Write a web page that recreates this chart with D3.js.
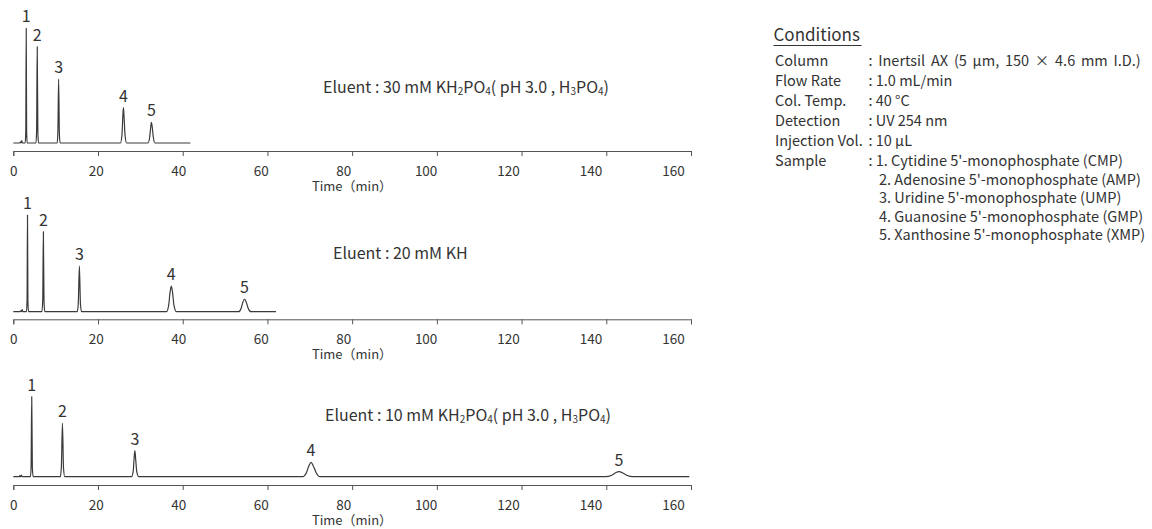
<!DOCTYPE html>
<html><head><meta charset="utf-8">
<script src="https://cdn.jsdelivr.net/npm/d3@7"></script>
<style>
body{margin:0;background:#fff}
svg{display:block}
text{font-family:"Noto Sans CJK JP","Noto Sans",sans-serif;fill:#333}
</style>
</head><body>
<svg id="c" width="1152" height="529"></svg>
<script>
// ---------- data ----------
const timeTicks = [0, 20, 40, 60, 80, 100, 120, 140, 160];
const peakLabels = ["1", "2", "3", "4", "5"];

// chromatogram traces: [time (min), signal]
const trace30 = [
  [0,0],[1.55,0],[1.7,1.2],[1.85,0],[2.0,2.5],[2.15,0],
  [2.8,0],[2.95,12],[3.05,114.7],[3.15,10],[3.3,0],
  [5.35,0],[5.5,12],[5.65,96.3],[5.8,10],[5.95,0],
  [10.35,0],[10.52,10],[10.7,64],[10.88,9],[11.05,0],
  [25.3,0],[25.65,8],[25.85,26],[26.0,35.3],[26.15,26],[26.4,7],[26.75,0],
  [31.8,0],[32.2,6],[32.45,16],[32.6,20.7],[32.8,16],[33.05,6],[33.45,0],
  [41.8,0]
];
const trace20 = [
  [0,0],[1.6,0],[1.8,1],[1.95,0],[2.1,2],[2.25,0],
  [3.1,0],[3.25,12],[3.35,96.7],[3.45,10],[3.6,0],
  [6.75,0],[6.95,12],[7.1,80],[7.25,10],[7.45,0],
  [15.1,0],[15.35,9],[15.6,45.7],[15.85,8],[16.1,0],
  [36.2,0],[36.7,7],[37.0,19],[37.3,25.7],[37.6,19],[37.95,6],[38.5,0],
  [53.2,0],[53.8,3.5],[54.2,9.5],[54.6,12.7],[55.0,9.5],[55.45,3.5],[56.1,0],
  [62,0]
];
const trace10 = [
  [0,0],[1.4,0],[1.55,1],[1.7,0],[1.9,1.5],[2.05,0],
  [4.05,0],[4.2,10],[4.35,80],[4.5,9],[4.7,0],
  [11.1,0],[11.35,10],[11.6,53.4],[11.85,9],[12.15,0],
  [27.9,0],[28.3,5],[28.5,17],[28.7,26],[28.9,17],[29.15,5],[29.6,0],
  [68.3,0],[69.2,4],[69.8,11],[70.3,14.4],[70.8,11],[71.5,4],[72.4,0],
  [139.8,0],[141.3,1.5],[142.2,4],[143,5],[143.8,4],[144.8,1.5],[146.3,0],
  [159.6,0]
];

// peak apexes (retention time, height)
const rt30 = [3.05, 5.65, 10.7, 26.0, 32.6];
const h30  = [114.7, 96.3, 64, 35.3, 20.7];
const rt20 = [3.35, 7.1, 15.6, 37.3, 54.6];
const h20  = [96.7, 80, 45.7, 25.7, 12.7];
const rt10 = [4.35, 11.6, 28.7, 70.3, 143];
const h10  = [80, 53.4, 26, 14.4, 5];

// eluent labels: [text, subscript?]
const eluent30 = [["Eluent : 30 mM KH",0],["2",1],["PO",0],["4",1],["( pH 3.0 , H",0],["3",1],["PO",0],["4",1],[")",0]];
const eluent20 = [["Eluent : 20 mM KH",0]];
const eluent10 = [["Eluent : 10 mM KH",0],["2",1],["PO",0],["4",1],["( pH 3.0 , H",0],["3",1],["PO",0],["4",1],[")",0]];

const condLabels = ["Column", "Flow Rate", "Col. Temp.", "Detection", "Injection Vol.", "Sample"];
const condValues = [": Inertsil AX (5 µm, 150 × 4.6 mm I.D.)", ": 1.0 mL/min", ": 40 °C", ": UV 254 nm", ": 10 µL", ": 1. Cytidine 5'-monophosphate (CMP)"];
const sampleMore = ["2. Adenosine 5'-monophosphate (AMP)", "3. Uridine 5'-monophosphate (UMP)", "4. Guanosine 5'-monophosphate (GMP)", "5. Xanthosine 5'-monophosphate (XMP)"];

// ---------- drawing ----------
const svg = d3.select("#c");
svg.append("rect").attr("width",1152).attr("height",529).attr("fill","#fff");

const x = d3.scaleLinear().domain([0,160]).range([13.3,691]);
const xLab = d3.scaleLinear().domain([0,160]).range([13.3,673]);

const panels = [
  {trace: trace30, rt: rt30, h: h30, eluent: eluent30, base: 143, axisY: 151, ex: 323, ey: 93},
  {trace: trace20, rt: rt20, h: h20, eluent: eluent20, base: 311.7, axisY: 319.3, ex: 333, ey: 258.5},
  {trace: trace10, rt: rt10, h: h10, eluent: eluent10, base: 476.7, axisY: 485, ex: 325, ey: 421}
];

panels.forEach(p => {
  const y = d3.scaleLinear().domain([0,120]).range([p.base, p.base-120]);
  const g = svg.append("g");

  g.append("path")
    .datum(p.trace)
    .attr("fill","none")
    .attr("stroke","#3a3a3a")
    .attr("stroke-width",1.2)
    .attr("stroke-linejoin","round")
    .attr("d", d3.line().x(d=>x(d[0])).y(d=>y(d[1])).curve(d3.curveMonotoneX));

  g.selectAll("text.pk").data(p.rt).join("text")
    .attr("class","pk")
    .attr("x", d=>x(d))
    .attr("y", (d,i)=>y(p.h[i]) - 6)
    .attr("text-anchor","middle")
    .style("font-size","16px")
    .text((d,i)=>peakLabels[i]);

  const ax = g.append("g").attr("transform",`translate(0,${p.axisY})`)
    .call(d3.axisBottom(x).tickValues(timeTicks).tickSize(5).tickSizeOuter(5).tickFormat(""));
  ax.selectAll("path,line").attr("stroke","#555").attr("stroke-width",1);

  const al = g.append("g").attr("transform",`translate(0,${p.axisY})`)
    .call(d3.axisBottom(xLab).tickValues(timeTicks).tickSize(0));
  al.select(".domain").remove();
  al.selectAll("text").attr("y",25).attr("dy",null)
    .style("font-size","13.5px").style("font-family",'"Noto Sans CJK JP",sans-serif').attr("fill","#333");

  g.append("text")
    .attr("x",352).attr("y",p.axisY+40)
    .attr("text-anchor","middle")
    .style("font-size","13px")
    .text("Time（min）");

  const et = g.append("text").attr("x",p.ex).attr("y",p.ey).style("font-size","16px");
  p.eluent.forEach((s,i) => {
    const prev = i>0 ? p.eluent[i-1] : null;
    let dy = 0;
    if (s[1] && !(prev && prev[1])) dy = 2;
    if (!s[1] && prev && prev[1]) dy = -2;
    const ts = et.append("tspan").attr("dy", dy).text(s[0]);
    if (s[1]) ts.style("font-size","10px");
  });
});

// ---------- conditions ----------
const cg = svg.append("g");
cg.append("text").attr("x",773.5).attr("y",41).style("font-size","17px").text("Conditions");
cg.append("line").attr("x1",773.5).attr("x2",861.5).attr("y1",45.5).attr("y2",45.5)
  .attr("stroke","#333").attr("stroke-width",1);

const rowY = d3.scaleLinear().domain([0,1]).range([66,86]);
cg.selectAll("text.cl").data(condLabels).join("text")
  .attr("class","cl").attr("x",775).attr("y",(d,i)=>rowY(i))
  .style("font-size","14.5px").text(d=>d);
cg.selectAll("text.cv").data(condValues).join("text")
  .attr("class","cv").attr("x",868.5).attr("y",(d,i)=>rowY(i))
  .style("font-size","14.5px")
  .style("word-spacing",(d,i)=> i===0 ? "2.5px" : null)
  .text(d=>d);
const subY = d3.scaleLinear().domain([0,1]).range([rowY(5)+18.5, rowY(5)+37]);
cg.selectAll("text.sm").data(sampleMore).join("text")
  .attr("class","sm").attr("x",879).attr("y",(d,i)=>subY(i))
  .style("font-size","14.5px").text(d=>d);
</script>
</body></html>
